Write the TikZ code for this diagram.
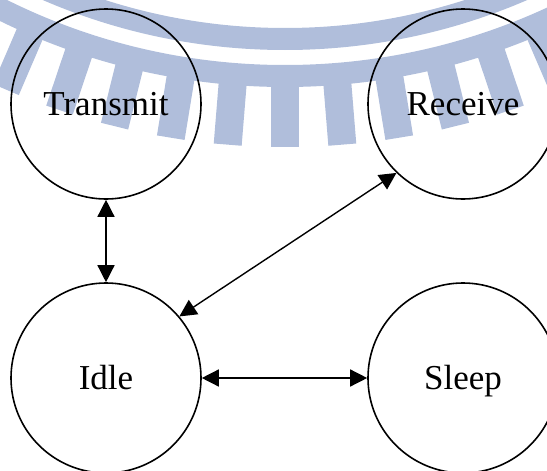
\documentclass[tikz,border=0pt]{standalone}
\usepackage{fontspec}
\setmainfont{Liberation Serif}
\usetikzlibrary{arrows.meta}
\definecolor{wmblue}{RGB}{176,190,219}
\begin{document}
\begin{tikzpicture}[x=1pt,y=-1pt,
  state/.style={circle, draw, line width=1.6pt, minimum size=190pt, inner sep=0pt,
    font=\fontsize{35}{42}\selectfont, text height=26pt, text depth=4pt},
  biarrow/.style={{Triangle[length=17pt,width=17pt]}-{Triangle[length=17pt,width=17pt]}, line width=1.4pt},
  wm/.style={fill=wmblue}]
\useasboundingbox (0,0) rectangle (547,471);
\begin{scope}
  \clip (0,0) rectangle (547,471);
  \coordinate (C) at (285,-560);
  \fill[wm, even odd rule] (C) circle[radius=610pt] (C) circle[radius=588pt];
  \fill[wm, even odd rule] (C) circle[radius=647pt] (C) circle[radius=625pt];
  \foreach \k in {-7,...,7} {
    \fill[wm, rotate around={\k*4.65:(C)}] (271,86) rectangle (299,147);
  }
\end{scope}
\node[state] (trans) at (106,104) {Transmit};
\node[state] (recv)  at (463,104) {Receive};
\node[state] (idle)  at (106,378) {Idle};
\node[state] (sleep) at (463,378) {Sleep};
\draw[biarrow] (trans) -- (idle);
\draw[biarrow] (idle) -- (sleep);
\draw[biarrow] (idle.40) -- (recv.226);
\end{tikzpicture}
\end{document}
